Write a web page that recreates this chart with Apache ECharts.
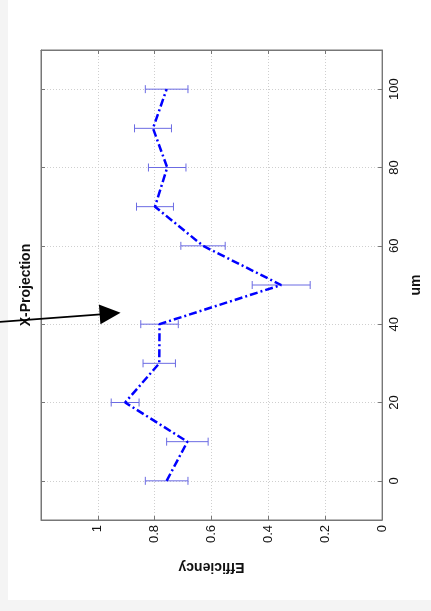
<!DOCTYPE html>
<html>
<head>
<meta charset="utf-8">
<script src="https://cdn.jsdelivr.net/npm/echarts@6/dist/echarts.min.js"></script>
<style>
html,body{margin:0;padding:0;background:#f4f4f4;width:431px;height:611px;overflow:hidden;}
#chart{position:absolute;left:0;top:0;width:431px;height:611px;}
</style>
</head>
<body>
<div id="chart"></div>
<script>
// Data
var positions = [0, 10, 20, 30, 40, 50, 60, 70, 80, 90, 100];          // um
var efficiency = [0.758, 0.685, 0.904, 0.784, 0.783, 0.355, 0.630, 0.799, 0.756, 0.806, 0.758];
var errorHalf = [0.075, 0.073, 0.049, 0.057, 0.066, 0.102, 0.078, 0.065, 0.066, 0.065, 0.075];
var titleText = 'X-Projection';
var xName = 'Efficiency';
var yName = 'um';
// annotation arrow, in data coordinates [efficiency, um]
var arrowFrom = [1.339, 40.6];
var arrowTo = [0.920, 42.9];

var FONT = '"Liberation Sans", Arial, Helvetica, sans-serif';
var AX = '#777777';

var lineData = positions.map(function (p, i) { return [efficiency[i], p]; });
var errData = positions.map(function (p, i) { return [efficiency[i] - errorHalf[i], efficiency[i] + errorHalf[i], p]; });

var chart = echarts.init(document.getElementById('chart'), null, {renderer: 'canvas'});

var gridLine = {show: true, lineStyle: {color: '#cfcfcf', type: [1, 2], width: 1}};
var G = {left: 41, right: 39, top: 50, bottom: 91};

var option = {
  animation: false,
  backgroundColor: '#f4f4f4',
  grid: {left: G.left, right: G.right, top: G.top, bottom: G.bottom, show: true, backgroundColor: '#ffffff', borderColor: AX, borderWidth: 1, containLabel: false},
  xAxis: [{
    type: 'value', min: 0, max: 1.2, interval: 0.2, inverse: true, position: 'bottom',
    axisLine: {show: true, onZero: false, lineStyle: {color: AX, width: 1}},
    axisTick: {show: true, inside: true, length: 4, lineStyle: {color: AX}},
    axisLabel: {rotate: 90, showMaxLabel: false, fontSize: 13, color: '#111111', fontFamily: FONT, margin: 5},
    splitLine: gridLine,
    name: xName, nameLocation: 'middle', nameRotate: 180, nameGap: 40,
    nameTextStyle: {fontSize: 14, fontWeight: 'bold', color: '#111111', fontFamily: FONT}
  }, {
    type: 'value', min: 0, max: 1.2, interval: 0.2, inverse: true, position: 'top',
    axisLine: {show: true, onZero: false, lineStyle: {color: AX, width: 1}},
    axisTick: {show: true, inside: true, length: 4, lineStyle: {color: AX}},
    axisLabel: {show: false}, splitLine: {show: false}
  }],
  yAxis: [{
    type: 'value', min: -10, max: 110, splitNumber: 6, position: 'right',
    axisLine: {show: true, onZero: false, lineStyle: {color: AX, width: 1}},
    axisTick: {show: true, inside: true, length: 4, lineStyle: {color: AX}},
    axisLabel: {rotate: 90, showMinLabel: false, showMaxLabel: false, fontSize: 13, color: '#111111', fontFamily: FONT, margin: 6},
    splitLine: gridLine,
    name: yName, nameLocation: 'middle', nameRotate: 90, nameGap: 23,
    nameTextStyle: {fontSize: 14, fontWeight: 'bold', color: '#111111', fontFamily: FONT}
  }, {
    type: 'value', min: -10, max: 110, splitNumber: 6, position: 'left',
    axisLine: {show: true, onZero: false, lineStyle: {color: AX, width: 1}},
    axisTick: {show: true, inside: true, length: 4, lineStyle: {color: AX}},
    axisLabel: {show: false}, splitLine: {show: false}
  }],
  series: [{
    type: 'custom',
    xAxisIndex: 0, yAxisIndex: 0,
    data: errData,
    renderItem: function (params, api) {
      var lo = api.coord([api.value(0), api.value(2)]);
      var hi = api.coord([api.value(1), api.value(2)]);
      var cap = 4;
      var st = {stroke: '#6b6be3', lineWidth: 1};
      return {type: 'group', children: [
        {type: 'line', shape: {x1: lo[0], y1: lo[1], x2: hi[0], y2: hi[1]}, style: st},
        {type: 'line', shape: {x1: lo[0], y1: lo[1] - cap, x2: lo[0], y2: lo[1] + cap}, style: st},
        {type: 'line', shape: {x1: hi[0], y1: hi[1] - cap, x2: hi[0], y2: hi[1] + cap}, style: st}
      ]};
    },
    z: 2
  }, {
    type: 'line',
    xAxisIndex: 0, yAxisIndex: 0,
    data: lineData,
    symbol: 'none',
    lineStyle: {color: '#0000ff', width: 2.5, type: [8, 3, 2, 3]},
    z: 3
  }]
};
chart.setOption(option);

// figure background, title and arrow annotation
var p0 = chart.convertToPixel({xAxisIndex: 0, yAxisIndex: 0}, arrowFrom);
var p1 = chart.convertToPixel({xAxisIndex: 0, yAxisIndex: 0}, arrowTo);
var dx = p1[0] - p0[0], dy = p1[1] - p0[1];
var len = Math.sqrt(dx * dx + dy * dy);
var ux = dx / len, uy = dy / len;
var headLen = 21, headHalf = 10;
var bx = p1[0] - ux * headLen, by = p1[1] - uy * headLen;
var nx = -uy, ny = ux;
var plotTop = G.top, plotBottom = 611 - G.bottom;

chart.setOption({
  graphic: [
    {
      type: 'rect', z: -10, silent: true,
      shape: {x: 8, y: 0, width: 423, height: 600},
      style: {fill: '#ffffff'}
    },
    {
      type: 'text',
      x: 26.5, y: (plotTop + plotBottom) / 2,
      rotation: Math.PI / 2,
      style: {text: titleText, fontSize: 14, fontWeight: 'bold', fill: '#111111', fontFamily: FONT,
              align: 'center', verticalAlign: 'middle'},
      z: 10
    },
    {
      type: 'line',
      shape: {x1: p0[0] - 4, y1: p0[1] - uy * 4 / ux, x2: bx + ux, y2: by + uy},
      style: {stroke: '#000000', lineWidth: 1.8},
      z: 11
    },
    {
      type: 'polygon',
      shape: {points: [[p1[0], p1[1]], [bx + nx * headHalf, by + ny * headHalf], [bx - nx * headHalf, by - ny * headHalf]]},
      style: {fill: '#000000'},
      z: 11
    }
  ]
});
</script>
</body>
</html>
